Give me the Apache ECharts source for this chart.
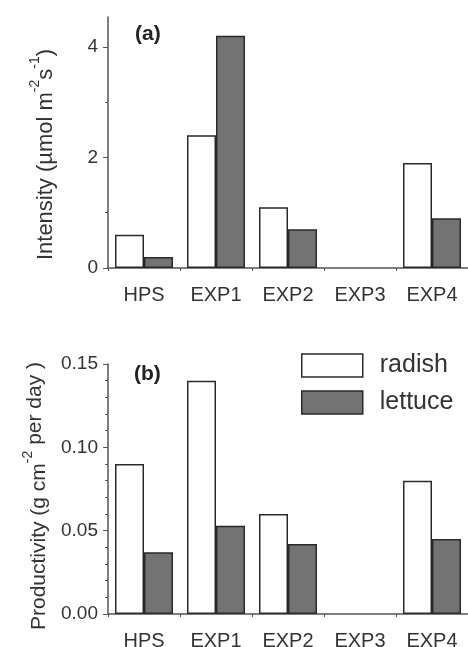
<!DOCTYPE html>
<html>
<head>
<meta charset="utf-8">
<script src="https://cdn.jsdelivr.net/npm/echarts@6/dist/echarts.min.js"></script>
<style>html,body{margin:0;padding:0;background:#fff}#c{width:468px;height:647px}</style>
</head>
<body>
<div id="c"></div>
<script>
const categories = ['HPS', 'EXP1', 'EXP2', 'EXP3', 'EXP4'];
const seriesNames = ['radish', 'lettuce'];
const intensityRadish = [0.6, 2.4, 1.1, 0, 1.9];
const intensityLettuce = [0.2, 4.2, 0.7, 0, 0.9];
const productivityRadish = [0.09, 0.14, 0.06, 0, 0.08];
const productivityLettuce = [0.037, 0.053, 0.042, 0, 0.045];
const intensityMajorTicks = [0, 2, 4];
const intensityMinorTicks = [1, 3];
const intensityMax = 4.54;
const productivityMax = 0.15;
const productivityInterval = 0.05;

const FONT = '"Liberation Sans", Arial, sans-serif';
const TXT = '#333';
const AX = '#555';
const fills = { radish: '#ffffff', lettuce: '#737373' };

function richName(fs) {
  return {
    b: { fontSize: fs, fontFamily: FONT, color: TXT, verticalAlign: 'bottom', lineHeight: fs },
    s: { fontSize: 14, fontFamily: FONT, color: TXT, verticalAlign: 'bottom', lineHeight: 14, padding: [0, 0, 15, 0] },
    r: { fontSize: fs, fontFamily: FONT, color: TXT, verticalAlign: 'bottom', lineHeight: fs, padding: [0, 0, 4, 0] }
  };
}

function xAxisFor(gi) {
  return {
    type: 'category', gridIndex: gi, data: categories,
    axisLine: { lineStyle: { color: AX, width: 1.5 } },
    axisTick: { show: true, length: 3, lineStyle: { color: AX } },
    axisLabel: { fontSize: 20, fontFamily: FONT, color: TXT, margin: 17 }
  };
}

function barSeries(name, data, gi) {
  return {
    type: 'bar', name: name,
    data: data.map(v => v === 0 ? { value: v, itemStyle: { borderWidth: 0 } } : v),
    xAxisIndex: gi, yAxisIndex: gi === 0 ? 0 : 2,
    barWidth: 29, barGap: '0%',
    itemStyle: { color: fills[name], borderColor: '#2a2a2a', borderWidth: 1.5 },
    emphasis: { disabled: true }
  };
}

const chart = echarts.init(document.getElementById('c'), null, { renderer: 'canvas' });
chart.setOption({
  animation: false,
  backgroundColor: '#fff',
  title: [
    { text: '(a)', left: 135, top: 24, padding: 0, textStyle: { fontSize: 21, fontWeight: 'bold', fontFamily: FONT, color: '#222' } },
    { text: '(b)', left: 134, top: 364, padding: 0, textStyle: { fontSize: 21, fontWeight: 'bold', fontFamily: FONT, color: '#222' } }
  ],
  legend: {
    orient: 'vertical', left: 301, top: 353, padding: 0,
    itemWidth: 61, itemHeight: 23, itemGap: 12, icon: 'rect',
    selectedMode: false,
    textStyle: { fontSize: 25, fontFamily: FONT, color: TXT, padding: [0, 0, 0, 12] },
    data: seriesNames.map(n => ({ name: n, itemStyle: { color: fills[n], borderColor: '#2a2a2a', borderWidth: 1.5 } }))
  },
  grid: [
    { left: 108, width: 360, top: 17, height: 251, outerBoundsMode: 'none' },
    { left: 108, width: 360, top: 364, height: 250, outerBoundsMode: 'none' }
  ],
  xAxis: [xAxisFor(0), xAxisFor(1)],
  yAxis: [
    {
      type: 'value', gridIndex: 0, position: 'left', min: 0, max: intensityMax, interval: 1,
      splitLine: { show: false },
      axisLine: { show: true, lineStyle: { color: AX, width: 1.5 } },
      axisTick: { show: true, length: 5, customValues: intensityMajorTicks, lineStyle: { color: AX } },
      axisLabel: { fontSize: 19, fontFamily: FONT, color: TXT, margin: 10, customValues: intensityMajorTicks },
      name: '{b|Intensity (µmol m}{s|-2}{b|s}{s|-1}{b|)}',
      nameLocation: 'middle', nameRotate: 90, nameGap: 51,
      nameTextStyle: { rich: richName(22), padding: [0, 24, 0, 0] }
    },
    {
      type: 'value', gridIndex: 0, position: 'left', min: 0, max: intensityMax, interval: 1,
      splitLine: { show: false },
      axisLine: { show: false },
      axisTick: { show: true, length: 3, customValues: intensityMinorTicks, lineStyle: { color: AX } },
      axisLabel: { show: false }
    },
    {
      type: 'value', gridIndex: 1, position: 'left', min: 0, max: productivityMax, interval: productivityInterval,
      splitLine: { show: false },
      axisLine: { show: true, lineStyle: { color: AX, width: 1.5 } },
      axisTick: { show: true, length: 5, lineStyle: { color: AX } },
      minorTick: { show: true, splitNumber: 5, length: 3, lineStyle: { color: AX } },
      axisLabel: { fontSize: 19, fontFamily: FONT, color: TXT, margin: 10, formatter: v => v.toFixed(2) },
      name: '{b|Productivity (g cm}{s|-2}{r| per day )}',
      nameLocation: 'middle', nameRotate: 90, nameGap: 51,
      nameTextStyle: { rich: richName(21), padding: [0, 14, 0, 0] }
    }
  ],
  series: [
    barSeries('radish', intensityRadish, 0),
    barSeries('lettuce', intensityLettuce, 0),
    barSeries('radish', productivityRadish, 1),
    barSeries('lettuce', productivityLettuce, 1)
  ]
});
</script>
</body>
</html>
